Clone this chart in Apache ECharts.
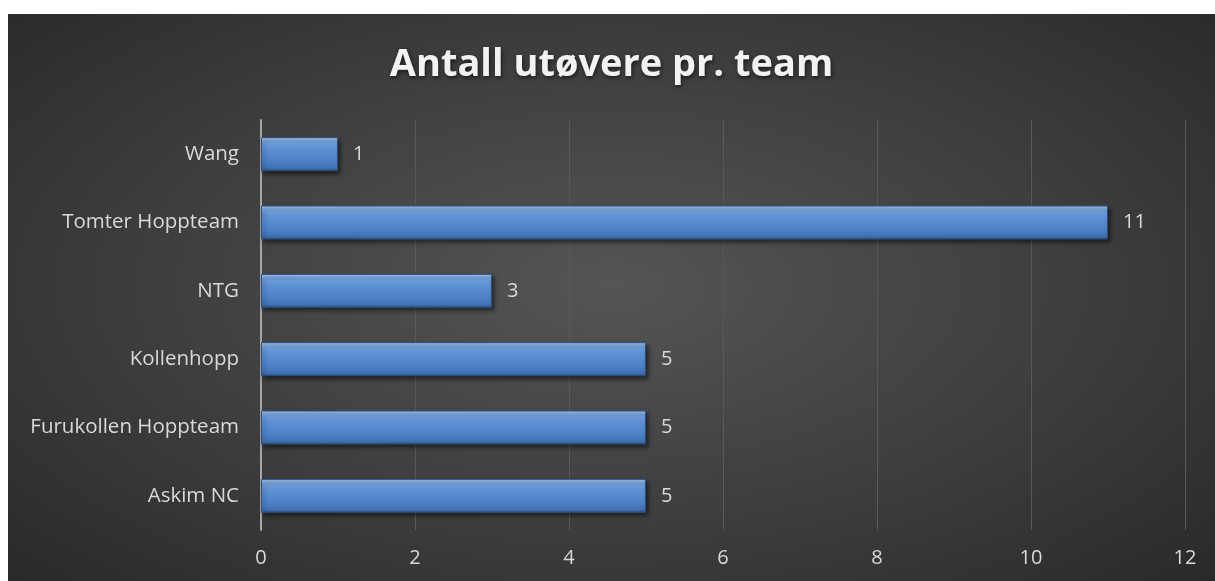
<!DOCTYPE html>
<html><head><meta charset="utf-8">
<script src="https://cdn.jsdelivr.net/npm/echarts@6/dist/echarts.min.js"></script>
<style>
html,body{margin:0;padding:0;background:#fff;width:1215px;height:581px;overflow:hidden}
#chart{position:absolute;left:8px;top:14px;width:1207px;height:567px;
background:radial-gradient(ellipse 75% 80% at 50% 48%, #555555 0%, #3c3c3c 55%, #262626 100%);}
</style></head>
<body><div id="chart"></div>
<script>
const titleText = 'Antall utøvere pr. team';
const categories = ['Askim NC','Furukollen Hoppteam','Kollenhopp','NTG','Tomter Hoppteam','Wang'];
const values = [5,5,5,3,11,1];
const xTicks = [0,2,4,6,8,10,12];

const chart = echarts.init(document.getElementById('chart'), null, {renderer:'canvas'});
chart.setOption({
  backgroundColor:'transparent',
  animation:false,
  title:{
    text:titleText, left:'center', top:27,
    textStyle:{color:'#f2f2f2', fontFamily:'Open Sans', fontWeight:'bold', fontSize:38,
      textShadowColor:'rgba(0,0,0,0.6)', textShadowBlur:4, textShadowOffsetX:1, textShadowOffsetY:2}
  },
  grid:{left:253, right:30, top:106, bottom:51, containLabel:false},
  xAxis:{
    type:'value', min:xTicks[0], max:xTicks[xTicks.length-1], interval:2,
    axisLine:{show:false}, axisTick:{show:false},
    axisLabel:{color:'#d9d9d9', fontFamily:'Open Sans', fontSize:20, margin:18},
    splitLine:{show:true, lineStyle:{color:'#595959', width:1}}
  },
  yAxis:{
    type:'category', data:categories,
    axisLine:{show:true, lineStyle:{color:'#a6a6a6', width:2}},
    axisTick:{show:false},
    axisLabel:{color:'#d9d9d9', fontFamily:'Open Sans', fontSize:20.5, margin:22}
  },
  series:[{
    type:'bar', data:values, barWidth:34,
    itemStyle:{
      color:new echarts.graphic.LinearGradient(0,0,0,1,[
        {offset:0,color:'#a9c8ee'},
        {offset:0.12,color:'#79a6e0'},
        {offset:0.3,color:'#5f93d6'},
        {offset:0.75,color:'#4a7fc4'},
        {offset:0.92,color:'#3f70b0'},
        {offset:1,color:'#2a4f80'}
      ]),
      borderColor:'#2c4f7e', borderWidth:1,
      shadowColor:'rgba(0,0,0,0.5)', shadowBlur:4, shadowOffsetX:2, shadowOffsetY:3
    },
    label:{show:true, position:'right', distance:15, color:'#d9d9d9', fontFamily:'Open Sans', fontSize:20}
  }]
});
</script></body></html>
